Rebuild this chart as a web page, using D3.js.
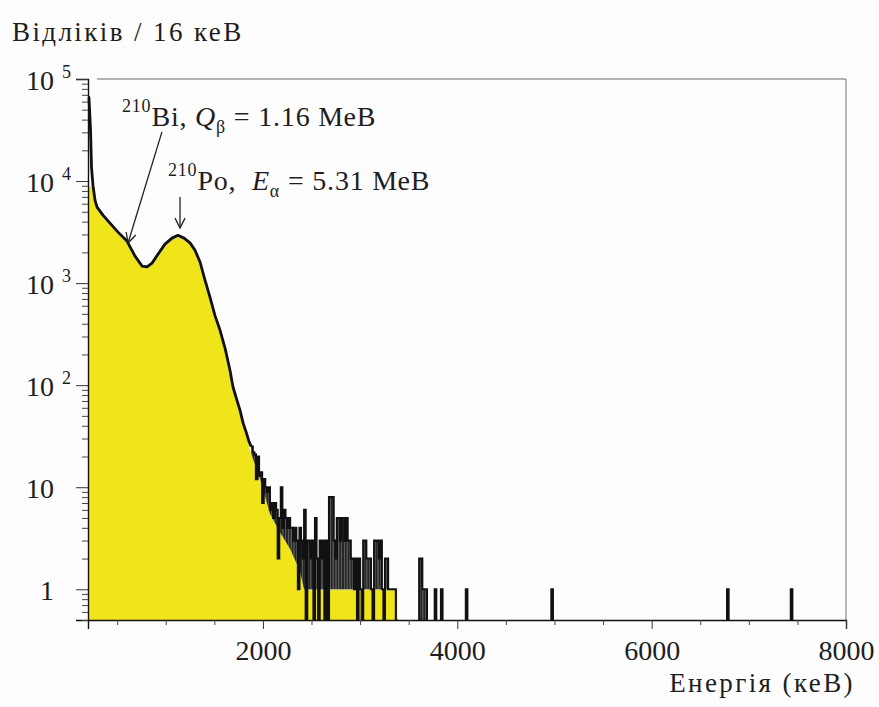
<!DOCTYPE html>
<html><head><meta charset="utf-8">
<script src="https://cdn.jsdelivr.net/npm/d3@7"></script>
<style>
body{margin:0;background:#fff;}
</style>
</head><body>
<svg id="c" width="879" height="707"></svg>
<script>
// ---- data ----
const mainEnergy = [200,210,226,236,251,272,293,354,426,509,601,684,756,807,859,920,992,1064,1126,1188,1250,1301,1353,1404,1455,1507,1558,1610,1661,1692,1733,1764,1795,1826,1857,1880];
const mainCounts = [66000,66000,31600,13700,9100,6500,5560,4640,3870,3160,2580,1840,1470,1440,1570,1920,2410,2760,2940,2760,2480,2100,1610,1070,730,480,347,231,140,96,71,57,43,35,28,25];

const fillEnergy = [200,251,272,293,354,426,509,601,684,756,807,859,920,992,1064,1126,1188,1250,1301,1353,1404,1455,1507,1558,1610,1661,1692,1733,1764,1795,1826,1867,1970,2073,2176,2279,2382,2423,3384,3384];
const fillCounts = [8500,9100,6500,5560,4640,3870,3160,2580,1840,1470,1440,1570,1920,2410,2760,2940,2760,2480,2100,1610,1070,730,480,347,231,140,96,71,57,43,35,23,12,5.5,3.6,2.5,1.5,1,1,0.5];

const binWidth = 16;
const tailEdges = [1880,1896,1912,1928,1944,1960,1976,1992,2008,2024,2040,2056,2072,2088,2104,2120,2136,2152,2168,2184,2200,2216,2232,2248,2264,2280,2296,2312,2328,2344,2360,2376,2392,2408,2424,2440,2456,2472,2488,2504,2520,2536,2552,2568,2584,2600,2616,2632,2648,2664,2680,2696,2712,2728,2744,2760,2776,2792,2808,2824,2840,2856,2872,2888,2904,2920,2936,2952,2968,2984,3000,3016,3032,3048,3064,3080,3096,3112,3128,3144,3160,3176,3192,3208,3224,3240,3256,3272,3288,3304,3320,3336,3352,3368,
  3608,3624,3640,3656,3672,3768,3832,4088,4968,6776,7432];
const tailCounts = [25,22,21,12,20,13,14,7,12,10,
  9,10,6,7,5,7,6,2,5,10,
  4,6,5,4,5,4,4,3,4,3,
  1,4,3,2,6,0,3,3,2,3,
  0,5,2,0,3,2,3,0,3,0,
  8,8,8,3,2,5,5,3,5,5,
  3,5,3,3,2,2,1,2,0,2,
  1,0,3,3,2,2,2,1,0,3,
  3,3,2,3,1,0,2,2,1,1,
  1,1,1,0,
  2,2,1,1,1,1,1,1,1,1,1];

const xTicks = [2000,4000,6000,8000];
const xMinorTicks = [500,1000,1500,2500,3000,3500,4500,5000,5500,6500,7000,7500];
const yTicks = [1,10,100,1000,10000,100000];
const yTickBase = ["1","10","10","10","10","10"];
const yTickExp = ["","","2","3","4","5"];
const yTitle = "Відліків / 16 кеВ";
const xTitle = "Енергія (кеВ)";

const FONT = "Times New Roman";
const TXT = "#1e1e1e";

// ---- scales ----
const svg = d3.select("#c");
const x = d3.scaleLinear().domain([200, 8000]).range([88, 846]);
const yMin = 0.5;
const y = d3.scaleLog().domain([yMin, 1e5]).range([620, 79]);
const yv = v => y(Math.max(v, yMin));
const base = y(yMin);

svg.append("rect").attr("width",879).attr("height",707).attr("fill","#fdfdfd");

// frame (top / right)
svg.append("line").attr("x1",97).attr("x2",x(8000)).attr("y1",y(1e5)).attr("y2",y(1e5))
  .attr("stroke","#9a9a9a").attr("stroke-width",1.6);
svg.append("line").attr("x1",x(8000)).attr("x2",x(8000)).attr("y1",y(1e5)).attr("y2",base)
  .attr("stroke","#8a8a8a").attr("stroke-width",1.2);

// tail bins (dark bars, under the yellow fill)
const tailBins = tailEdges.map((e,i)=>({lo:e, hi:e+binWidth, v:tailCounts[i]})).filter(d=>d.v>0);
svg.append("g").selectAll("rect").data(tailBins).join("rect")
  .attr("x", d=>x(d.lo)).attr("width", d=>x(d.hi)-x(d.lo))
  .attr("y", d=>y(d.v)).attr("height", d=>base-y(d.v))
  .attr("fill","#262626");

// yellow fill
const fillData = fillEnergy.map((e,i)=>[e, fillCounts[i]]);
svg.append("path").datum(fillData)
  .attr("d", d3.area().x(d=>x(d[0])).y0(base).y1(d=>yv(d[1])))
  .attr("fill","#efe519");

// main spectrum line
const mainData = mainEnergy.map((e,i)=>[e, mainCounts[i]]);
svg.append("path").datum(mainData)
  .attr("d", d3.line().x(d=>x(d[0])).y(d=>yv(d[1])))
  .attr("fill","none").attr("stroke","#111").attr("stroke-width",2.8)
  .attr("stroke-linejoin","round");

// tail histogram as step outline
(function(){
  let p = d3.path();
  let prevHigh = null;
  tailEdges.forEach((lo,i)=>{
    const hi = lo + binWidth;
    const v = tailCounts[i] > 0 ? y(tailCounts[i]) : base;
    if (prevHigh === null) { p.moveTo(x(lo), yv(mainCounts[mainCounts.length-1])); }
    else if (lo !== prevHigh) { p.lineTo(x(prevHigh), base); p.moveTo(x(lo), base); }
    p.lineTo(x(lo), v); p.lineTo(x(hi), v);
    prevHigh = hi;
  });
  p.lineTo(x(prevHigh), base);
  svg.append("path").attr("d", p.toString()).attr("fill","none")
    .attr("stroke","#111").attr("stroke-width",2.1).attr("stroke-linejoin","miter");
})();

// axes
const gx = svg.append("g").attr("transform",`translate(0,${base})`)
  .call(d3.axisBottom(x).tickValues(xTicks).tickSize(9).tickPadding(6).tickFormat(d3.format("d")));
gx.attr("font-family", FONT);
gx.select(".domain").attr("stroke","#111").attr("stroke-width",1.4);
gx.selectAll(".tick line").attr("stroke","#333");
gx.selectAll("text").attr("font-size",28).attr("fill",TXT).attr("dy","0.9em")
  .attr("font-family", FONT);
const gxm = svg.append("g").attr("transform",`translate(0,${base})`)
  .call(d3.axisBottom(x).tickValues(xMinorTicks).tickSize(5).tickFormat(""));
gxm.select(".domain").remove();
gxm.selectAll(".tick line").attr("stroke","#444");

const yMinor = [];
[0.1,1,10,100,1000,10000].forEach(d=>{ for(let k=2;k<=9;k++){ const v=d*k; if(v>=yMin && v<1e5) yMinor.push(v);} });
const gy = svg.append("g").attr("transform",`translate(${x(200)},0)`)
  .call(d3.axisLeft(y).tickValues(yTicks).tickSize(12).tickFormat(""));
gy.select(".domain").attr("stroke","#111").attr("stroke-width",1.4);
gy.selectAll(".tick line").attr("stroke","#333");
const gym = svg.append("g").attr("transform",`translate(${x(200)},0)`)
  .call(d3.axisLeft(y).tickValues(yMinor).tickSize(6).tickFormat(""));
gym.select(".domain").remove();
gym.selectAll(".tick line").attr("stroke","#444");

// y tick labels with superscripts
yTicks.forEach((t,i)=>{
  const ty = y(t);
  svg.append("text").attr("x",54).attr("y",ty+11).attr("text-anchor","end").attr("fill",TXT)
    .attr("font-family",FONT).attr("font-size",28).text(yTickBase[i]);
  if (yTickExp[i]) svg.append("text").attr("x",62).attr("y",ty-1).attr("fill",TXT)
    .attr("font-family",FONT).attr("font-size",18).text(yTickExp[i]);
});

// titles
svg.append("text").attr("x",12).attr("y",41).attr("font-family",FONT).attr("fill",TXT)
  .attr("font-size",27).attr("letter-spacing",2.4).text(yTitle);
svg.append("text").attr("x",855).attr("y",692).attr("text-anchor","end").attr("font-family",FONT).attr("fill",TXT)
  .attr("font-size",27).attr("letter-spacing",2.4).text(xTitle);

// annotations
const defs = svg.append("defs");
defs.append("marker").attr("id","ah").attr("viewBox","0 0 12 12").attr("refX",11).attr("refY",6)
  .attr("markerWidth",12).attr("markerHeight",12).attr("markerUnits","userSpaceOnUse").attr("orient","auto")
  .append("path").attr("d","M1,1 L11,6 L1,11").attr("fill","none").attr("stroke","#222").attr("stroke-width",1.3);

const arrows = [
  {e1:961, v1:30300, e2:612, v2:2470},
  {e1:1147, v1:6970, e2:1147, v2:3460}
];
arrows.forEach(a=>{
  svg.append("line").attr("x1",x(a.e1)).attr("y1",y(a.v1)).attr("x2",x(a.e2)).attr("y2",y(a.v2))
    .attr("stroke","#222").attr("stroke-width",1.3).attr("marker-end","url(#ah)");
});

const labels = [
  {e:550, v:34600, iso:"210", el:"Bi, ", sym:"Q", sub:"β", rest:" = 1.16 МеВ"},
  {e:1023, v:8160, iso:"210", el:"Po,  ", sym:"E", sub:"α", rest:" = 5.31 МеВ"}
];
labels.forEach(l=>{
  const t = svg.append("text").attr("x",x(l.e)).attr("y",y(l.v)).attr("font-size",28)
    .attr("font-family",FONT).attr("fill",TXT).attr("letter-spacing",0.8).style("white-space","pre");
  t.append("tspan").attr("font-size",18).attr("dy",-14).text(l.iso);
  t.append("tspan").attr("dy",14).text(l.el);
  t.append("tspan").attr("font-style","italic").text(l.sym);
  t.append("tspan").attr("font-size",18).attr("dy",7).text(l.sub);
  t.append("tspan").attr("dy",-7).text(l.rest);
});
</script>
</body></html>
